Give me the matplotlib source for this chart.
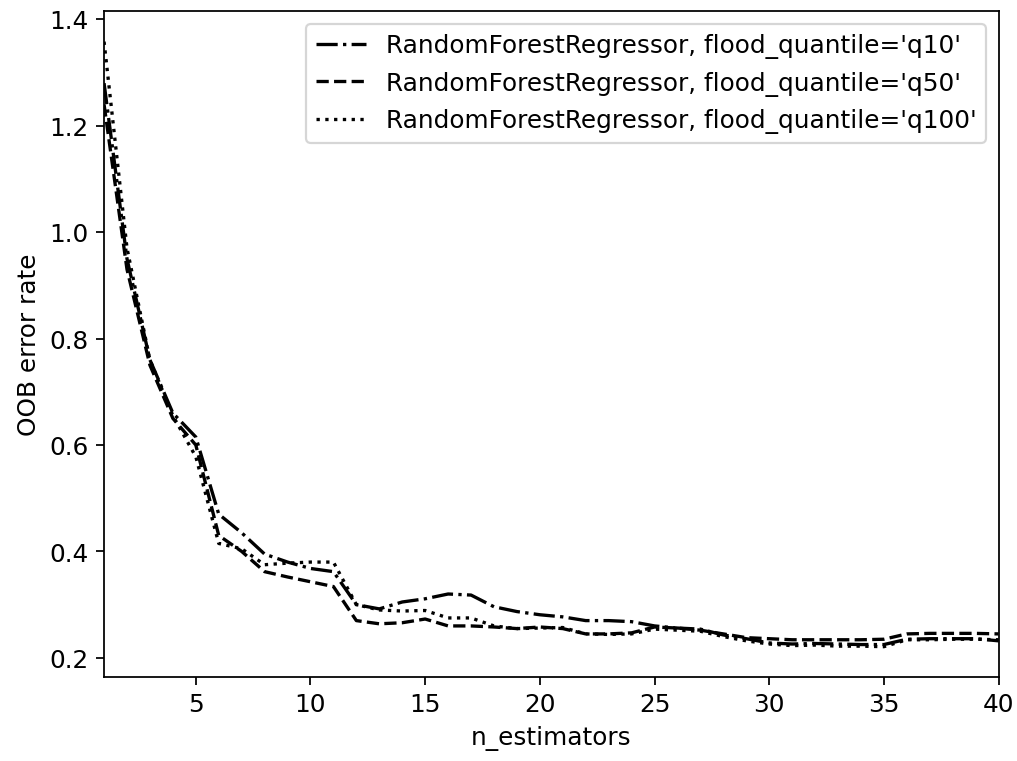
import matplotlib
matplotlib.use("Agg")
import matplotlib.pyplot as plt

n_estimators = list(range(1, 41))

labels = [
    "RandomForestRegressor, flood_quantile='q10'",
    "RandomForestRegressor, flood_quantile='q50'",
    "RandomForestRegressor, flood_quantile='q100'",
]

err_q10 = [1.28, 0.95, 0.76, 0.66, 0.615, 0.47, 0.435, 0.395, 0.38, 0.368,
           0.362, 0.30, 0.292, 0.305, 0.311, 0.32, 0.318, 0.296, 0.287, 0.281,
           0.277, 0.27, 0.27, 0.268, 0.26, 0.256, 0.254, 0.243, 0.236, 0.228,
           0.226, 0.227, 0.226, 0.225, 0.225, 0.235, 0.236, 0.236, 0.236, 0.232]

err_q50 = [1.24, 0.93, 0.75, 0.65, 0.60, 0.43, 0.40, 0.362, 0.352, 0.343,
           0.334, 0.27, 0.264, 0.266, 0.273, 0.26, 0.26, 0.258, 0.255, 0.258,
           0.255, 0.245, 0.245, 0.247, 0.258, 0.256, 0.252, 0.245, 0.238, 0.236,
           0.234, 0.234, 0.234, 0.234, 0.235, 0.245, 0.246, 0.246, 0.246, 0.245]

err_q100 = [1.358, 0.97, 0.76, 0.655, 0.578, 0.415, 0.405, 0.375, 0.378, 0.38,
            0.38, 0.30, 0.29, 0.288, 0.289, 0.275, 0.275, 0.26, 0.255, 0.256,
            0.257, 0.245, 0.244, 0.245, 0.254, 0.252, 0.25, 0.24, 0.232, 0.226,
            0.223, 0.224, 0.222, 0.222, 0.221, 0.234, 0.234, 0.235, 0.235, 0.234]

plt.rcParams["font.size"] = 11.2

fig = plt.figure(figsize=(6.4, 4.79), dpi=159)
ax = fig.add_axes([104 / 1017, 84 / 761, 894 / 1017, 665 / 761])

ax.plot(n_estimators, err_q10, color="black", linestyle="-.", label=labels[0])
ax.plot(n_estimators, err_q50, color="black", linestyle="--", label=labels[1])
ax.plot(n_estimators, err_q100, color="black", linestyle=":", label=labels[2])

ax.set_xlim(1, 40)
ax.set_xticks([5, 10, 15, 20, 25, 30, 35, 40])
ax.set_xlabel("n_estimators")
ax.set_ylabel("OOB error rate")
ax.legend(loc="upper right")

fig.savefig("out.png", dpi=159)
